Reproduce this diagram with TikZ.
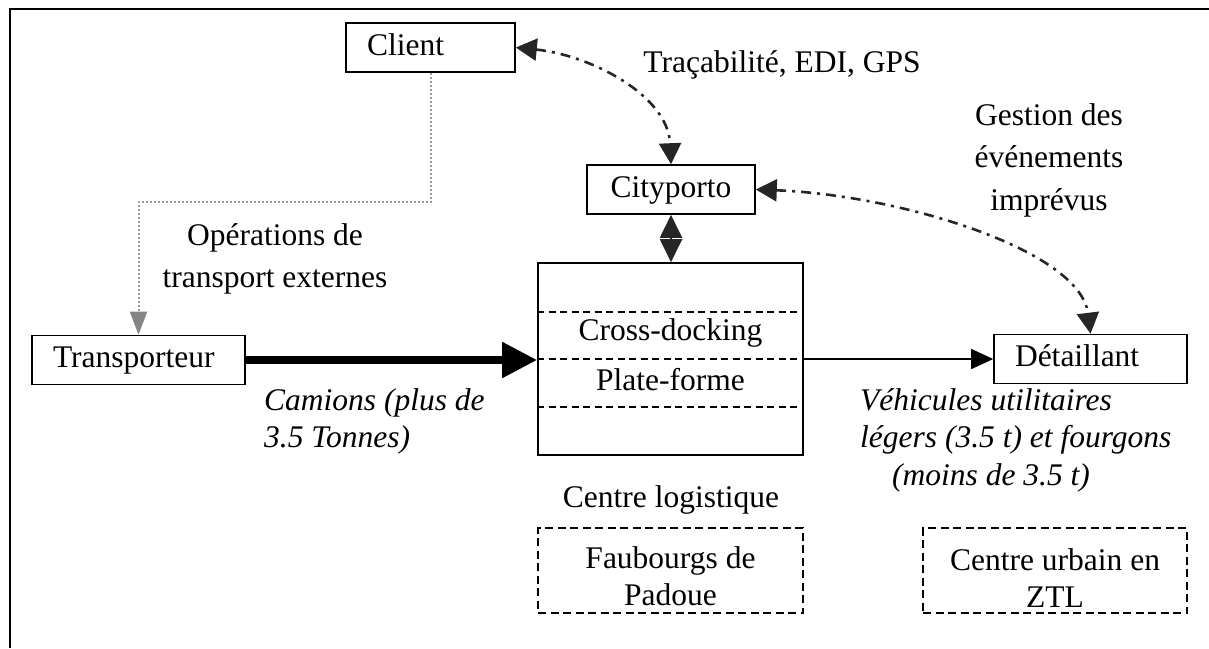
\documentclass[tikz,border=0pt]{standalone}
\usepackage{fontspec}
\setmainfont{Liberation Serif}
\usetikzlibrary{arrows.meta}
\definecolor{dk}{HTML}{262626}
\definecolor{gl}{HTML}{9A9A9A}
\definecolor{ga}{HTML}{858585}
\begin{document}
\begin{tikzpicture}[x=1pt,y=-1pt,
  every node/.style={font=\fontsize{31.5}{37}\selectfont},
  solidbox/.style={draw, line width=1.6pt, inner ysep=0pt, minimum height=49pt, text height=22pt, text depth=7pt},
  leftbox/.style={solidbox, align=left, inner xsep=21pt},
  dashbox/.style={draw, line width=1.6pt, dash pattern=on 8pt off 4.5pt, inner sep=0pt},
  lbl/.style={align=center, inner sep=0pt},
  itlbl/.style={align=left, inner sep=0pt, anchor=west, font=\fontsize{31.5}{37.5}\selectfont\itshape},
  ddarrow/.style={dk, line width=2.6pt, dash pattern=on 10pt off 6pt on 3pt off 6pt,
    {Triangle[length=21pt,width=22pt]}-{Triangle[length=21pt,width=22pt]}},
  innerdash/.style={line width=1.5pt, dash pattern=on 7pt off 4.5pt}
]
\useasboundingbox (0,0) rectangle (1209,648);
% frame
\draw[line width=2pt] (10,648) -- (10,9) -- (1209,9);

% boxes
\node[leftbox, text width=127pt] (client) at (430.5,47.5) {Client};
\node[solidbox, minimum width=168pt] (city) at (671,189.5) {Cityporto};
\node[draw, line width=1.6pt, minimum width=265pt, minimum height=192pt, inner sep=0pt] (plat) at (670.5,359) {};
\node[leftbox, text width=171pt] (trans) at (138.5,360) {Transporteur};
\node[leftbox, text width=151pt] (det) at (1090.5,359) {Détaillant};
\node[dashbox, minimum width=265pt, minimum height=85pt] (faub) at (670.5,570.5) {};
\node[dashbox, minimum width=264pt, minimum height=85pt] (ztl) at (1055,570.5) {};

% inner dashed lines of the platform
\foreach \yy in {312,359,407}
  \draw[innerdash] (plat.west |- 0,\yy) -- (plat.east |- 0,\yy);

% texts
\node[lbl] (crossd) at (670.5,333) {Cross-docking};
\node[lbl] (platf) at (670.5,380) {Plate-forme};
\node[lbl] (faubt) at (670.5,576.5) {Faubourgs de\\Padoue};
\node[lbl] (ztlt) at (1055,578) {Centre urbain en\\ZTL};
\node[lbl] (cl) at (671,500) {Centre logistique};
\node[lbl] (trac) at (782,65) {Traçabilité, EDI, GPS};
\node[lbl, font=\fontsize{31.5}{42.5}\selectfont] (gest) at (1049,160) {Gestion des\\événements\\imprévus};
\node[lbl, font=\fontsize{31.5}{42}\selectfont] (oper) at (275,259) {Opérations de\\transport externes};
\node[itlbl] (cam) at (264,421.5) {Camions (plus de\\3.5 Tonnes)};
\node[itlbl] (veh) at (860,440) {Véhicules utilitaires\\légers (3.5 t) et fourgons\\\hspace*{32pt}(moins de 3.5 t)};

% connectors
\draw[ddarrow] (client.east) .. controls (590,55) and (668,95) .. (city.north);
\draw[ddarrow] (city.east) .. controls (900,195) and (1080,250) .. (det.north);
\draw[dk, line width=2pt, {Triangle[length=23pt,width=22pt]}-{Triangle[length=23pt,width=22pt]}] (city.south) -- (city.south |- plat.north);
\draw[line width=8pt, -{Triangle[length=35pt,width=34pt]}] (trans.east) -- (trans.east -| plat.west);
\draw[line width=1.5pt, -{Triangle[length=22pt,width=20pt]}] (plat.east) -- (det.west);
\coordinate (bend) at (430.5,202);
\draw[gl, line width=2pt, dash pattern=on 2pt off 2pt, -{Triangle[length=23pt,width=17pt,color=ga]}]
  (client.south) -- (client.south |- bend) -- (trans.north |- bend) -- (trans.north);
\end{tikzpicture}
\end{document}
